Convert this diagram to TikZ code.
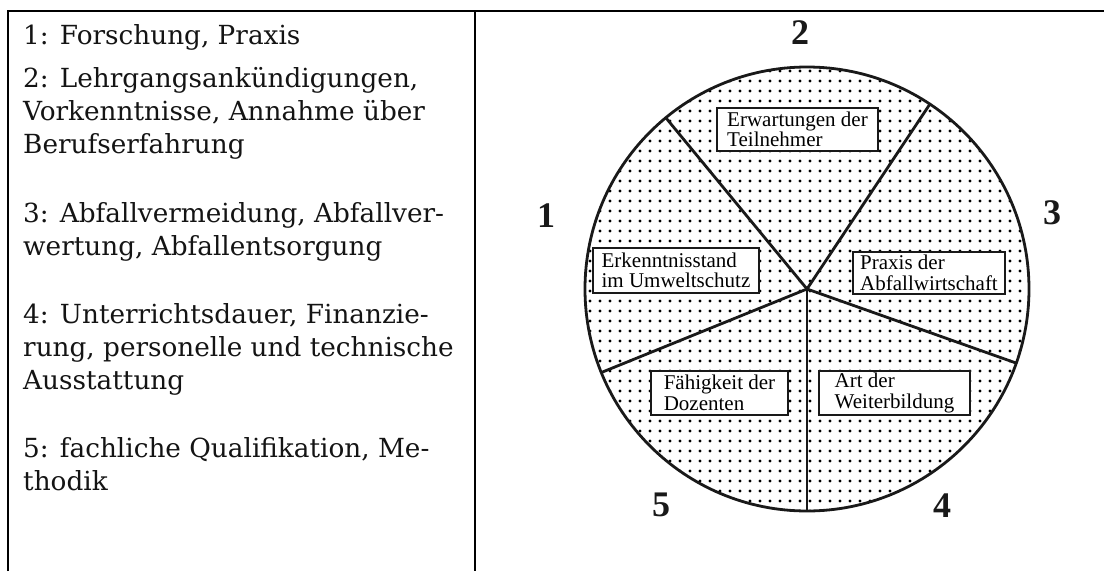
\documentclass[tikz,border=0pt]{standalone}
\usepackage{fontspec}
\setmainfont{DejaVu Serif}
\newfontfamily\labelfont{Liberation Serif}
\usetikzlibrary{patterns.meta}

\begin{document}
\begin{tikzpicture}[x=1pt, y=-1pt,
  rule/.style={line width=2.5pt, draw=black},
  legend/.style={anchor=base west, align=left, inner sep=0pt,
    font=\fontsize{26.3}{33}\selectfont, text=black!92},
  sector/.style={line width=2.8pt, draw=black!90},
  tag/.style={draw=black!90, line width=1.5pt, fill=white, align=left,
    inner xsep=0pt, inner ysep=0pt,
    font=\labelfont\fontsize{21}{20.5}\selectfont},
  num/.style={font=\labelfont\bfseries\fontsize{36}{36}\selectfont,
    inner sep=0pt, text=black!90}
]
\useasboundingbox (0,0) rectangle (1104,571);

% table frame
\coordinate (tl) at (8,11);
\coordinate (tr) at (1104,11);
\coordinate (bl) at (8,571);
\coordinate (mt) at (475,11);
\coordinate (mb) at (475,571);
\draw[rule] (bl) -- (tl) -- (tr);
\draw[rule] (mt) -- (mb);

% legend column (each node sits on the baseline of its last line)
\node[legend] (p1) at (23,44) {1: Forschung, Praxis};
\node[legend] (p2) at (23,153) {2: Lehrgangsankündigungen,\\Vorkenntnisse, Annahme über\\Berufserfahrung};
\node[legend] (p3) at (23,255) {3: Abfallvermeidung, Abfallver-\\wertung, Abfallentsorgung};
\node[legend] (p4) at (23,389) {4: Unterrichtsdauer, Finanzie-\\rung, personelle und technische\\Ausstattung};
\node[legend] (p5) at (23,490) {5: fachliche Qualifikation, Me-\\thodik};

% dotted disc
\coordinate (c) at (807,289);
\fill[pattern={Dots[distance=10pt, radius=1.55pt]}, pattern color=black]
  (c) circle[radius=222pt];
\draw[line width=2.8pt, draw=black!90] (c) circle[radius=222pt];

% spokes
\coordinate (s1) at (665.8,117.7);
\coordinate (s2) at (929.9,104.1);
\coordinate (s3) at (1016.3,363.1);
\coordinate (s4) at (807,511);
\coordinate (s5) at (601.3,372.5);
\foreach \s in {s1,s2,s3,s4,s5} \draw[sector] (c) -- (\s);

% sector labels
\node[tag, minimum width=161pt, minimum height=43pt] (t2) at (797.5,129.5) {Erwartungen der\\Teilnehmer};
\node[tag, minimum width=152pt, minimum height=42pt] (t3) at (929,273) {Praxis der\\Abfallwirtschaft};
\node[tag, minimum width=166pt, minimum height=45pt] (t1) at (676,270.5) {Erkenntnisstand\\im Umweltschutz};
\node[tag, minimum width=137pt, minimum height=44pt] (t5) at (719.5,393) {Fähigkeit der\\Dozenten};
\node[tag, minimum width=151pt, minimum height=44pt] (t4) at (894.5,393) {Art der\\Weiterbildung};

% sector numbers
\node[num] (n2) at (800,33) {2};
\node[num] (n1) at (546,216) {1};
\node[num] (n3) at (1052,213) {3};
\node[num] (n5) at (661,505) {5};
\node[num] (n4) at (942,506) {4};
\end{tikzpicture}
\end{document}
